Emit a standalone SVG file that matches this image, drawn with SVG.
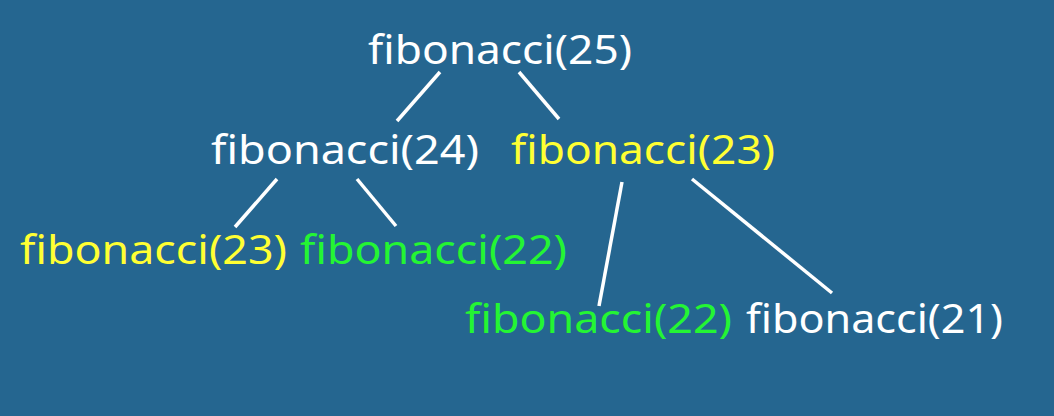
<svg xmlns="http://www.w3.org/2000/svg" width="1054" height="416" viewBox="0 0 1054 416">
<style>
text{font-family:"Noto Sans","Open Sans","Liberation Sans",sans-serif;font-size:40px;}
.w{fill:#ffffff}.y{fill:#ffff33}.g{fill:#24f533}
.edge{stroke:#ffffff;stroke-width:3.5;fill:none}
</style>
<rect x="0" y="0" width="1054" height="416" fill="#256690"/>
<g id="connectors">
<line class="edge" x1="440" y1="72" x2="397" y2="121"/>
<line class="edge" x1="519" y1="72" x2="559" y2="119"/>
<line class="edge" x1="277" y1="179" x2="235" y2="227"/>
<line class="edge" x1="357" y1="179" x2="396" y2="226"/>
<line class="edge" x1="622" y1="182" x2="599" y2="306"/>
<line class="edge" x1="692" y1="179" x2="832" y2="293"/>
</g>
<g id="n25"><text class="w" x="368" y="64" textLength="264" lengthAdjust="spacingAndGlyphs">fibonacci(25)</text></g>
<g id="n24"><text class="w" x="211" y="164" textLength="268" lengthAdjust="spacingAndGlyphs">fibonacci(24)</text></g>
<g id="n23a"><text class="y" x="511" y="164" textLength="264" lengthAdjust="spacingAndGlyphs">fibonacci(23)</text></g>
<g id="n23b"><text class="y" x="20" y="264" textLength="267" lengthAdjust="spacingAndGlyphs">fibonacci(23)</text></g>
<g id="n22a"><text class="g" x="300" y="264" textLength="267" lengthAdjust="spacingAndGlyphs">fibonacci(22)</text></g>
<g id="n22b"><text class="g" x="465" y="333" textLength="267" lengthAdjust="spacingAndGlyphs">fibonacci(22)</text></g>
<g id="n21"><text class="w" x="746" y="333" textLength="257" lengthAdjust="spacingAndGlyphs">fibonacci(21)</text></g>
</svg>
